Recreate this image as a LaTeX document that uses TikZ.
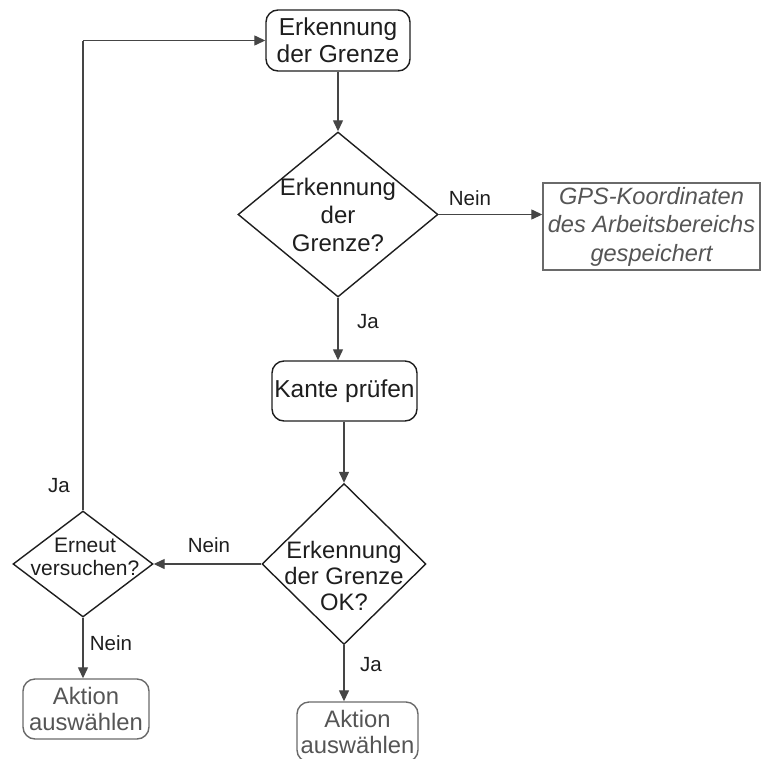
\documentclass[tikz,border=0pt]{standalone}
\usepackage{fontspec}
\setmainfont{Liberation Sans}
\usetikzlibrary{shapes.geometric,arrows.meta}

\definecolor{ink}{HTML}{1E1E1E}
\definecolor{wire}{HTML}{454545}
\definecolor{muted}{HTML}{555555}
\definecolor{mutededge}{HTML}{6A6A6A}

\tikzset{
  rbox/.style={draw=ink, line width=1.4pt, rounded corners=12pt, inner sep=0pt,
    align=center, text=ink, font=\fontsize{24.5}{27}\selectfont},
  gbox/.style={draw=mutededge, line width=1.4pt, rounded corners=12pt, inner sep=0pt,
    align=center, text=muted, font=\fontsize{23.8}{26}\selectfont},
  dia/.style={diamond, draw=ink, line width=1.4pt, inner sep=0pt},
  dtext/.style={align=center, text=ink, inner sep=0pt},
  lbl/.style={text=ink, inner sep=0pt, font=\fontsize{20.5}{24}\selectfont},
  flow/.style={draw=wire, line width=1.3pt, -{Triangle[length=11pt,width=10pt]}},
  wire/.style={draw=wire, line width=1.3pt}
}

\begin{document}
\begin{tikzpicture}[x=1pt,y=-1pt]
\useasboundingbox (0,0) rectangle (763,758);

% main column
\node[rbox, minimum width=144pt, minimum height=61pt] (start) at (338,40.5)
  {Erkennung\\der Grenze};
\node[dia, minimum width=200pt, minimum height=165pt,
  label={[dtext, font=\fontsize{24}{28}\selectfont]center:{Erkennung\\der\\Grenze?}}]
  (q1) at (338,214.5) {};
\node[gbox, rounded corners=0pt, minimum width=217pt, minimum height=87pt,
  font=\fontsize{23.6}{28.5}\selectfont\itshape] (gps) at (651.5,226.5)
  {GPS-Koordinaten\\des Arbeitsbereichs\\gespeichert};
\node[rbox, minimum width=145pt, minimum height=60pt] (kante) at (344.5,391)
  {Kante prüfen};
\node[dia, minimum width=164pt, minimum height=161pt,
  label={[dtext, yshift=-12pt, font=\fontsize{23.8}{26}\selectfont]center:{Erkennung\\der Grenze\\OK?}}]
  (q2) at (344,564) {};
\node[gbox, minimum width=121pt, minimum height=60pt] (act2) at (357.5,732)
  {Aktion\\auswählen};

% retry branch
\node[dia, minimum width=140pt, minimum height=106pt,
  label={[dtext, xshift=2pt, yshift=7pt, font=\fontsize{21}{23.5}\selectfont]center:{Erneut\\versuchen?}}]
  (q3) at (83,564) {};
\node[gbox, minimum width=126pt, minimum height=60pt] (act1) at (86,709)
  {Aktion\\auswählen};

% connectors
\draw[flow] (start.south -| q1.north) -- (q1.north);
\draw[flow] (q1.east) -- (q1.east -| gps.west);
\draw[flow] (q1.south) -- (q1.south |- kante.north);
\draw[flow] (kante.south -| q2.north) -- (q2.north);
\draw[flow] (q2.west) -- (q3.east);
\draw[flow] (q2.south) -- (q2.south |- act2.north);
\draw[flow] (q3.south) -- (q3.south |- act1.north);
\coordinate (bend) at (q3.north |- start.west);
\draw[wire] (q3.north) -- (bend);
\draw[flow] (bend) -- (start.west);

% branch labels
\node[lbl] (l1) at (470,198) {Nein};
\node[lbl] (l2) at (368,322) {Ja};
\node[lbl] (l3) at (209,545) {Nein};
\node[lbl] (l4) at (371,665) {Ja};
\node[lbl] (l5) at (59,486) {Ja};
\node[lbl] (l6) at (111,643) {Nein};
\end{tikzpicture}
\end{document}
